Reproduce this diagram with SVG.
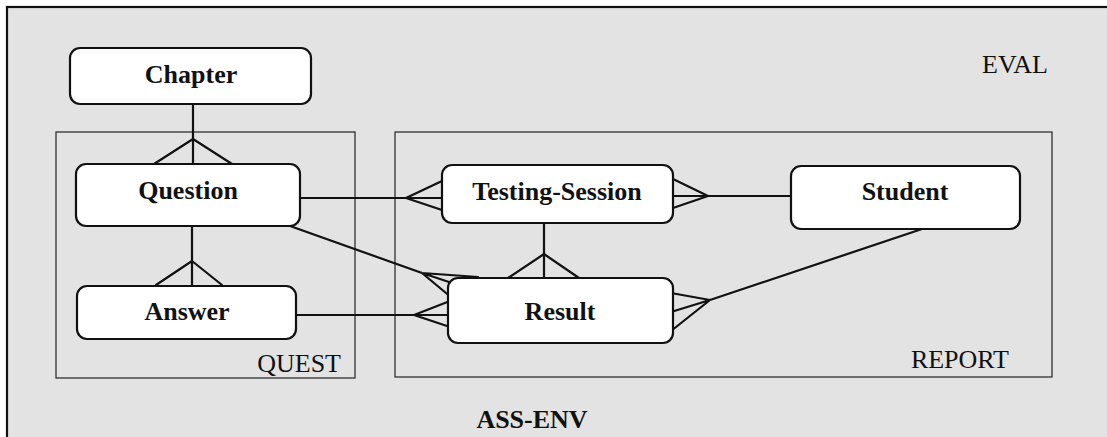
<svg xmlns="http://www.w3.org/2000/svg" width="1107" height="437" viewBox="0 0 1107 437">
  <style>
    .env { fill: #e3e3e3; stroke: #111; stroke-width: 2.2; }
    .pkg { fill: none; stroke: #222; stroke-width: 1.2; }
    .entity rect { fill: #fff; stroke: #111; stroke-width: 2.2; }
    .entity text { font-family: "Liberation Serif", "Times New Roman", serif; font-size: 26px; font-weight: bold; fill: #111; text-anchor: middle; }
    .label { font-family: "Liberation Serif", "Times New Roman", serif; font-size: 26px; fill: #111; }
    .bold { font-weight: bold; }
    .conn { fill: none; stroke: #111; stroke-width: 2.2; stroke-linecap: round; stroke-linejoin: round; }
  </style>

  <!-- ASS-ENV environment -->
  <rect class="env" x="7" y="7" width="1110" height="440"/>
  <text class="label" x="1048" y="73" text-anchor="end">EVAL</text>
  <text class="label bold" x="532" y="428" text-anchor="middle">ASS-ENV</text>

  <!-- packages -->
  <g id="quest">
    <rect class="pkg" x="56" y="132" width="299" height="246"/>
    <text class="label" x="341" y="372" text-anchor="end">QUEST</text>
  </g>
  <g id="report">
    <rect class="pkg" x="395" y="132" width="657" height="245"/>
    <text class="label" x="1009" y="368" text-anchor="end">REPORT</text>
  </g>

  <!-- relationships -->
  <g id="connectors">
    <!-- Chapter 1..n Question -->
    <path class="conn" d="M193 104 V164 M154 164 L193 139 L232 164"/>
    <!-- Question 1..n Answer -->
    <path class="conn" d="M192 226 V285 M156 285 L192 261 L222 285"/>
    <!-- Question 1..n Testing-Session -->
    <path class="conn" d="M300 198 H442 M442 181 L406 198 L442 210"/>
    <!-- Student 1..n Testing-Session -->
    <path class="conn" d="M791 196 H673 M673 179 L708 196 L673 208"/>
    <!-- Testing-Session 1..n Result -->
    <path class="conn" d="M544 223 V278 M508 278 L544 254 L579 278"/>
    <!-- Question 1..n Result -->
    <path class="conn" d="M290 226 L422 273 L478 277 M422 273 L452 298 M422 273 L452 283"/>
    <!-- Answer 1..n Result -->
    <path class="conn" d="M296 315 H450 M450 301 L414 315 L450 327"/>
    <!-- Student 1..n Result -->
    <path class="conn" d="M928 227 L710 300 M671 293 L710 300 L671 312 M710 300 L671 331"/>
  </g>

  <!-- entities -->
  <g id="chapter" class="entity">
    <rect x="70" y="48" width="241" height="56" rx="10"/>
    <text x="191" y="83">Chapter</text>
  </g>
  <g id="question" class="entity">
    <rect x="76" y="164" width="224" height="62" rx="10"/>
    <text x="188" y="199">Question</text>
  </g>
  <g id="answer" class="entity">
    <rect x="77" y="286" width="219" height="53" rx="10"/>
    <text x="187" y="320">Answer</text>
  </g>
  <g id="testing-session" class="entity">
    <rect x="442" y="165" width="231" height="58" rx="10"/>
    <text x="557" y="200">Testing-Session</text>
  </g>
  <g id="student" class="entity">
    <rect x="791" y="166" width="229" height="63" rx="10"/>
    <text x="905" y="200">Student</text>
  </g>
  <g id="result" class="entity">
    <rect x="448" y="278" width="225" height="65" rx="10"/>
    <text x="560" y="320">Result</text>
  </g>
</svg>
